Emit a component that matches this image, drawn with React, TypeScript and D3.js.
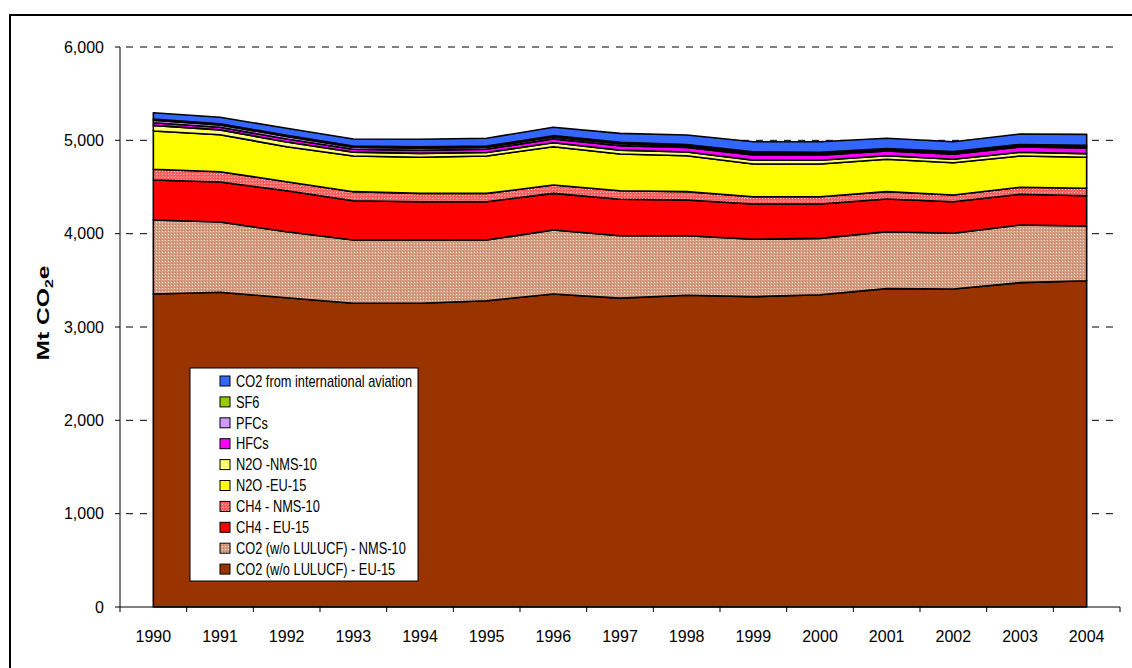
import React from "react";
import * as d3 from "d3";

const years = ["1990","1991","1992","1993","1994","1995","1996","1997","1998","1999","2000","2001","2002","2003","2004"];

const co2EU15 = [3354,3372,3314,3254,3254,3282,3354,3309,3340,3325,3346,3411,3407,3475,3496];
const co2NMS10 = [792,753,707,678,678,650,685,669,638,615,604,610,597,618,586];
const ch4EU15 = [429,429,439,421,410,410,393,390,383,378,368,350,338,329,325];
const ch4NMS10 = [115,110,97,97,90,90,89,92,89,78,78,79,72,75,79];
const n2oEU15 = [410,396,375,382,386,400,411,393,385,350,350,347,346,335,332];
const n2oNMS10 = [60,52,50,42,42,38,42,42,40,42,40,38,38,40,40];
const hfcs = [28,28,32,30,34,36,42,48,48,56,56,50,54,56,60];
const pfcs = [27,25,28,22,23,20,20,21,18,19,17,15,15,16,16];
const sf6 = [13,12,13,12,14,12,14,15,14,14,14,12,12,12,12];
const aviation = [68,70,74,76,80,84,90,96,102,108,112,110,106,112,118];

const yTicks = [0,1000,2000,3000,4000,5000,6000];

const series = [
  { key: "co2EU", label: "CO2 (w/o LULUCF) - EU-15", values: co2EU15, fill: "#993300" },
  { key: "co2NMS", label: "CO2 (w/o LULUCF) - NMS-10", values: co2NMS10, fill: "url(#patBrown)" },
  { key: "ch4EU", label: "CH4 - EU-15", values: ch4EU15, fill: "#FF0000" },
  { key: "ch4NMS", label: "CH4 - NMS-10", values: ch4NMS10, fill: "url(#patRed)" },
  { key: "n2oEU", label: "N2O -EU-15", values: n2oEU15, fill: "#FFFF00" },
  { key: "n2oNMS", label: "N2O -NMS-10", values: n2oNMS10, fill: "url(#patYellow)" },
  { key: "hfc", label: "HFCs", values: hfcs, fill: "#FF00FF" },
  { key: "pfc", label: "PFCs", values: pfcs, fill: "#CC99FF" },
  { key: "sf6", label: "SF6", values: sf6, fill: "#99CC00" },
  { key: "avi", label: "CO2 from international aviation", values: aviation, fill: "#3366FF" },
];

const FONT = "'Liberation Sans', Arial, sans-serif";

export default function App() {
  const W = 1132, H = 668;
  const plotL = 120, plotR = 1120, plotT = 47, plotB = 607;

  const x = d3.scaleBand<string>().domain(years).range([plotL, plotR]).padding(0);
  const cx = (yr: string) => (x(yr) as number) + x.bandwidth() / 2;
  const y = d3.scaleLinear().domain([0, 6000]).range([plotB, plotT]);

  const rows = years.map((yr, i) => {
    const r: any = { year: yr };
    series.forEach((s) => (r[s.key] = s.values[i]));
    return r;
  });
  const stacked = d3.stack<any>().keys(series.map((s) => s.key))(rows);
  const area = d3
    .area<any>()
    .x((d) => cx(d.data.year))
    .y0((d) => y(d[0]))
    .y1((d) => y(d[1]));

  const legendItems = [...series].reverse();
  const legX = 190, legY = 368, legW = 228, legRow = 20.9;

  return (
    <svg width={W} height={H} style={{ position: "absolute", left: 0, top: 0, display: "block" }} fontFamily={FONT}>
      <defs>
        <pattern id="patBrown" width="3" height="3" patternUnits="userSpaceOnUse">
          <rect width="3" height="3" fill="#D49C80" />
          <rect x="0" y="0" width="1" height="1" fill="#F2DED2" />
          <rect x="1" y="2" width="1" height="1" fill="#C4805E" />
        </pattern>
        <pattern id="patRed" width="3" height="3" patternUnits="userSpaceOnUse">
          <rect width="3" height="3" fill="#FF5A5A" />
          <rect x="0" y="0" width="1" height="1" fill="#FFC8C8" />
          <rect x="1" y="2" width="1" height="1" fill="#FF9090" />
        </pattern>
        <pattern id="patYellow" width="3" height="3" patternUnits="userSpaceOnUse">
          <rect width="3" height="3" fill="#FFFF60" />
          <rect x="0" y="0" width="1" height="1" fill="#FFFFD8" />
          <rect x="1" y="2" width="1" height="1" fill="#FFFFA0" />
        </pattern>
      </defs>
      <rect x={0} y={0} width={W} height={H} fill="#FFFFFF" />
      <rect x={10} y={15} width={1140} height={680} fill="none" stroke="#000" strokeWidth={2} />

      {/* gridlines */}
      {yTicks.filter((t) => t > 0).map((t) => (
        <line key={t} x1={plotL} x2={plotR} y1={y(t)} y2={y(t)} stroke="#000" strokeWidth={1} strokeDasharray="7,7" strokeDashoffset={-6} />
      ))}

      {/* areas */}
      {stacked.map((layer, i) => (
        <path key={layer.key} d={area(layer) as string} fill={series[i].fill} stroke="#000" strokeWidth={1.6} strokeLinejoin="round" />
      ))}

      {/* axes */}
      <line x1={plotL} x2={plotL} y1={plotT} y2={plotB} stroke="#000" strokeWidth={1} />
      <line x1={plotL} x2={plotR} y1={plotB} y2={plotB} stroke="#000" strokeWidth={1} />
      {yTicks.map((t) => (
        <g key={t}>
          <line x1={plotL - 5} x2={plotL} y1={y(t)} y2={y(t)} stroke="#000" />
          <text x={plotL - 16} y={y(t)} dy="0.35em" textAnchor="end" fontSize={16} fill="#000">
            {d3.format(",")(t)}
          </text>
        </g>
      ))}
      {years.map((yr) => (
        <line key={"t" + yr} x1={x(yr) as number} x2={x(yr) as number} y1={plotB} y2={plotB + 5} stroke="#000" />
      ))}
      <line x1={plotR} x2={plotR} y1={plotB} y2={plotB + 5} stroke="#000" />
      {years.map((yr) => (
        <text key={"l" + yr} x={cx(yr)} y={636} dy="0.35em" textAnchor="middle" fontSize={16} fill="#000">
          {yr}
        </text>
      ))}

      {/* y title */}
      <text transform="translate(49,313) rotate(-90) scale(1.45,1)" textAnchor="middle" fontSize={17} fontWeight="bold" fill="#000">
        Mt CO<tspan fontSize={11} dy="4">2</tspan><tspan dy="-4">e</tspan>
      </text>

      {/* legend */}
      <rect x={legX} y={legY} width={legW} height={legRow * 10 + 4} fill="#FFFFFF" stroke="#000" strokeWidth={1} />
      {legendItems.map((s, i) => {
        const ry = legY + 13 + i * legRow;
        return (
          <g key={s.key}>
            <rect x={220} y={ry - 5} width={10} height={10} fill={s.fill} stroke="#000" strokeWidth={1} />
            <text transform={`translate(236,${ry}) scale(0.8,1)`} dy="0.36em" fontSize={16} fill="#000">
              {s.label}
            </text>
          </g>
        );
      })}
    </svg>
  );
}
